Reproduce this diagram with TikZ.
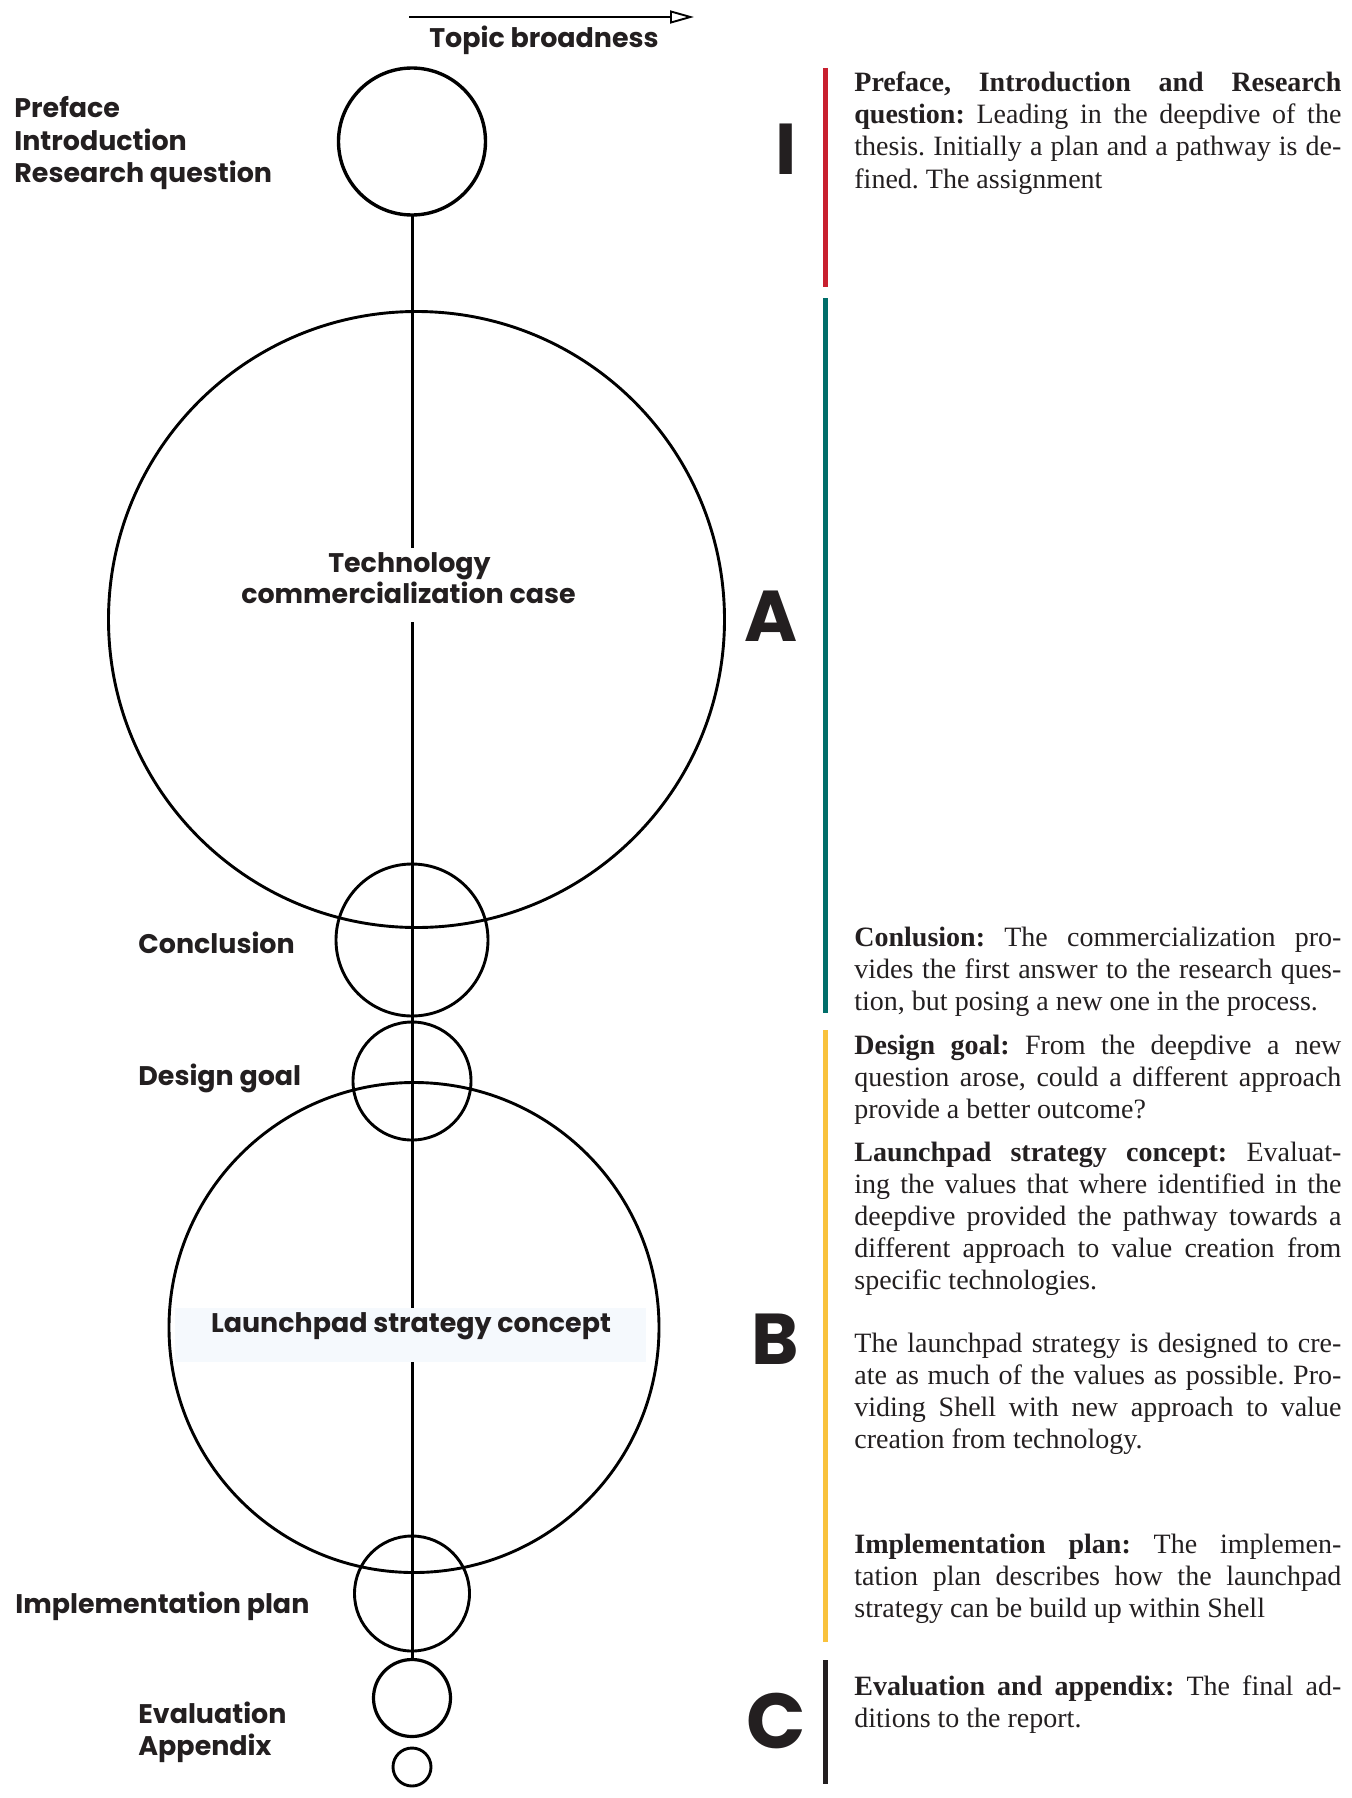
\documentclass[tikz,border=0pt]{standalone}
\usepackage{fontspec}
\usetikzlibrary{arrows.meta}
\newfontfamily\labfont{Poppins}
\newfontfamily\bodyfont{Liberation Serif}
\definecolor{ink}{HTML}{231F20}
\definecolor{barred}{HTML}{C8202F}
\definecolor{barteal}{HTML}{006E6A}
\definecolor{baryellow}{HTML}{F9C23C}
\definecolor{lpfill}{HTML}{F5F9FD}
\frenchspacing
\begin{document}
\begin{tikzpicture}[x=0.5pt,y=-0.5pt,
  circ/.style={circle,draw=black,line width=1.45pt,inner sep=0pt,outer sep=0pt},
  lab/.style={font=\labfont\bfseries\fontsize{13.45}{15.5}\selectfont,text=ink,inner sep=0pt,anchor=base west},
  labc/.style={lab,anchor=base},
  bigletter/.style={font=\labfont\bfseries\fontsize{36}{40}\selectfont,text=ink,inner sep=0pt},
  para/.style={font={\bodyfont\fontsize{14}{16}\selectfont\tolerance=10000\hbadness=10000},text=ink,inner sep=0pt,anchor=base west,text width=243.5pt,align=justify},
  bar/.style={line width=2.5pt},
  vline/.style={line width=1.5pt,draw=black}]
\useasboundingbox (0,0) rectangle (1351,1798);

% arrow
\coordinate (arrS) at (409,17);
\coordinate (arrE) at (694,17);
\draw[line width=0.95pt,-{Triangle[open,length=12pt,width=6.5pt]}] (arrS) -- (arrE);
\node[labc] (topic) at (544,48) {Topic broadness};

% circles
\node[circ,line width=1.7pt,minimum size=73.5pt] (c1) at (412,141.5) {};
\node[circ,minimum size=308pt] (cA) at (416.5,619.5) {};
\node[circ,minimum size=76pt] (c2) at (412,940) {};
\node[circ,minimum size=59pt] (c3) at (412,1081) {};
\node[circ,minimum size=245pt] (cB) at (414,1327.5) {};
\node[circ,minimum size=57.5pt] (c4) at (412,1593.5) {};
\node[circ,line width=1.6pt,minimum size=38.5pt] (c5) at (412,1698) {};
\node[circ,minimum size=19pt] (c6) at (412,1767) {};

% spine
\draw[vline] (c1.south) -- (c5.north);

% labels inside circles
\node[fill=white,inner sep=0pt,minimum width=8pt,minimum height=37pt] (techgap) at (412,585) {};
\node[labc] (tech1) at (409.5,572) {Technology};
\node[labc] (tech2) at (408.5,603) {commercialization case};
\node[fill=lpfill,inner sep=0pt,minimum width=235.5pt,minimum height=27pt] (lpbox) at (410.5,1335) {};
\node[labc] (lptext) at (411,1332) {Launchpad strategy concept};

% left labels
\node[lab] (pre1) at (14,118) {Preface};
\node[lab] (pre2) at (14,150) {Introduction};
\node[lab] (pre3) at (14,182) {Research question};
\node[lab] (concl) at (138,953) {Conclusion};
\node[lab] (dgoal) at (138,1085) {Design goal};
\node[lab] (impl) at (15,1613) {Implementation plan};
\node[lab] (eval1) at (138,1723) {Evaluation};
\node[lab] (eval2) at (138,1755) {Appendix};

% big letters
\node[bigletter] (LI) at (786,149.5) {I};
\node[bigletter] (LA) at (771.5,616.5) {A};
\node[bigletter] (LB) at (775,1339.5) {B};
\node[bigletter,font=\labfont\bfseries\fontsize{39}{42}\selectfont] (LC) at (776,1720.5) {C};

% colour bars
\draw[bar,barred] (825.5,68) -- (825.5,287);
\draw[bar,barteal] (825.5,298) -- (825.5,1013);
\draw[bar,baryellow] (825.5,1030) -- (825.5,1642);
\draw[bar,ink] (825.5,1660) -- (825.5,1784);

% paragraphs
\node[para] (p1) at (854,92) {\textbf{Preface, Introduction and Research\linebreak question:} Leading in the deepdive of the\linebreak thesis. Initially a plan and a pathway is de-\linebreak fined. The assignment};
\node[para] (p2) at (854,946) {\textbf{Conlusion:} The commercialization pro-\linebreak vides the first answer to the research ques-\linebreak tion, but posing a new one in the process.};
\node[para] (p3) at (854,1054) {\textbf{Design goal:} From the deepdive a new\linebreak question arose, could a different approach\linebreak provide a better outcome?};
\node[para] (p4) at (854,1161) {\textbf{Launchpad strategy concept:} Evaluat-\linebreak ing the values that where identified in the\linebreak deepdive provided the pathway towards a\linebreak different approach to value creation from\linebreak specific technologies.};
\node[para] (p5) at (854,1352) {The launchpad strategy is designed to cre-\linebreak ate as much of the values as possible. Pro-\linebreak viding Shell with new approach to value\linebreak creation from technology.};
\node[para] (p6) at (854,1553) {\textbf{Implementation plan:} The implemen-\linebreak tation plan describes how the launchpad\linebreak strategy can be build up within Shell};
\node[para] (p7) at (854,1695) {\textbf{Evaluation and appendix:} The final ad-\linebreak ditions to the report.};
\end{tikzpicture}
\end{document}
